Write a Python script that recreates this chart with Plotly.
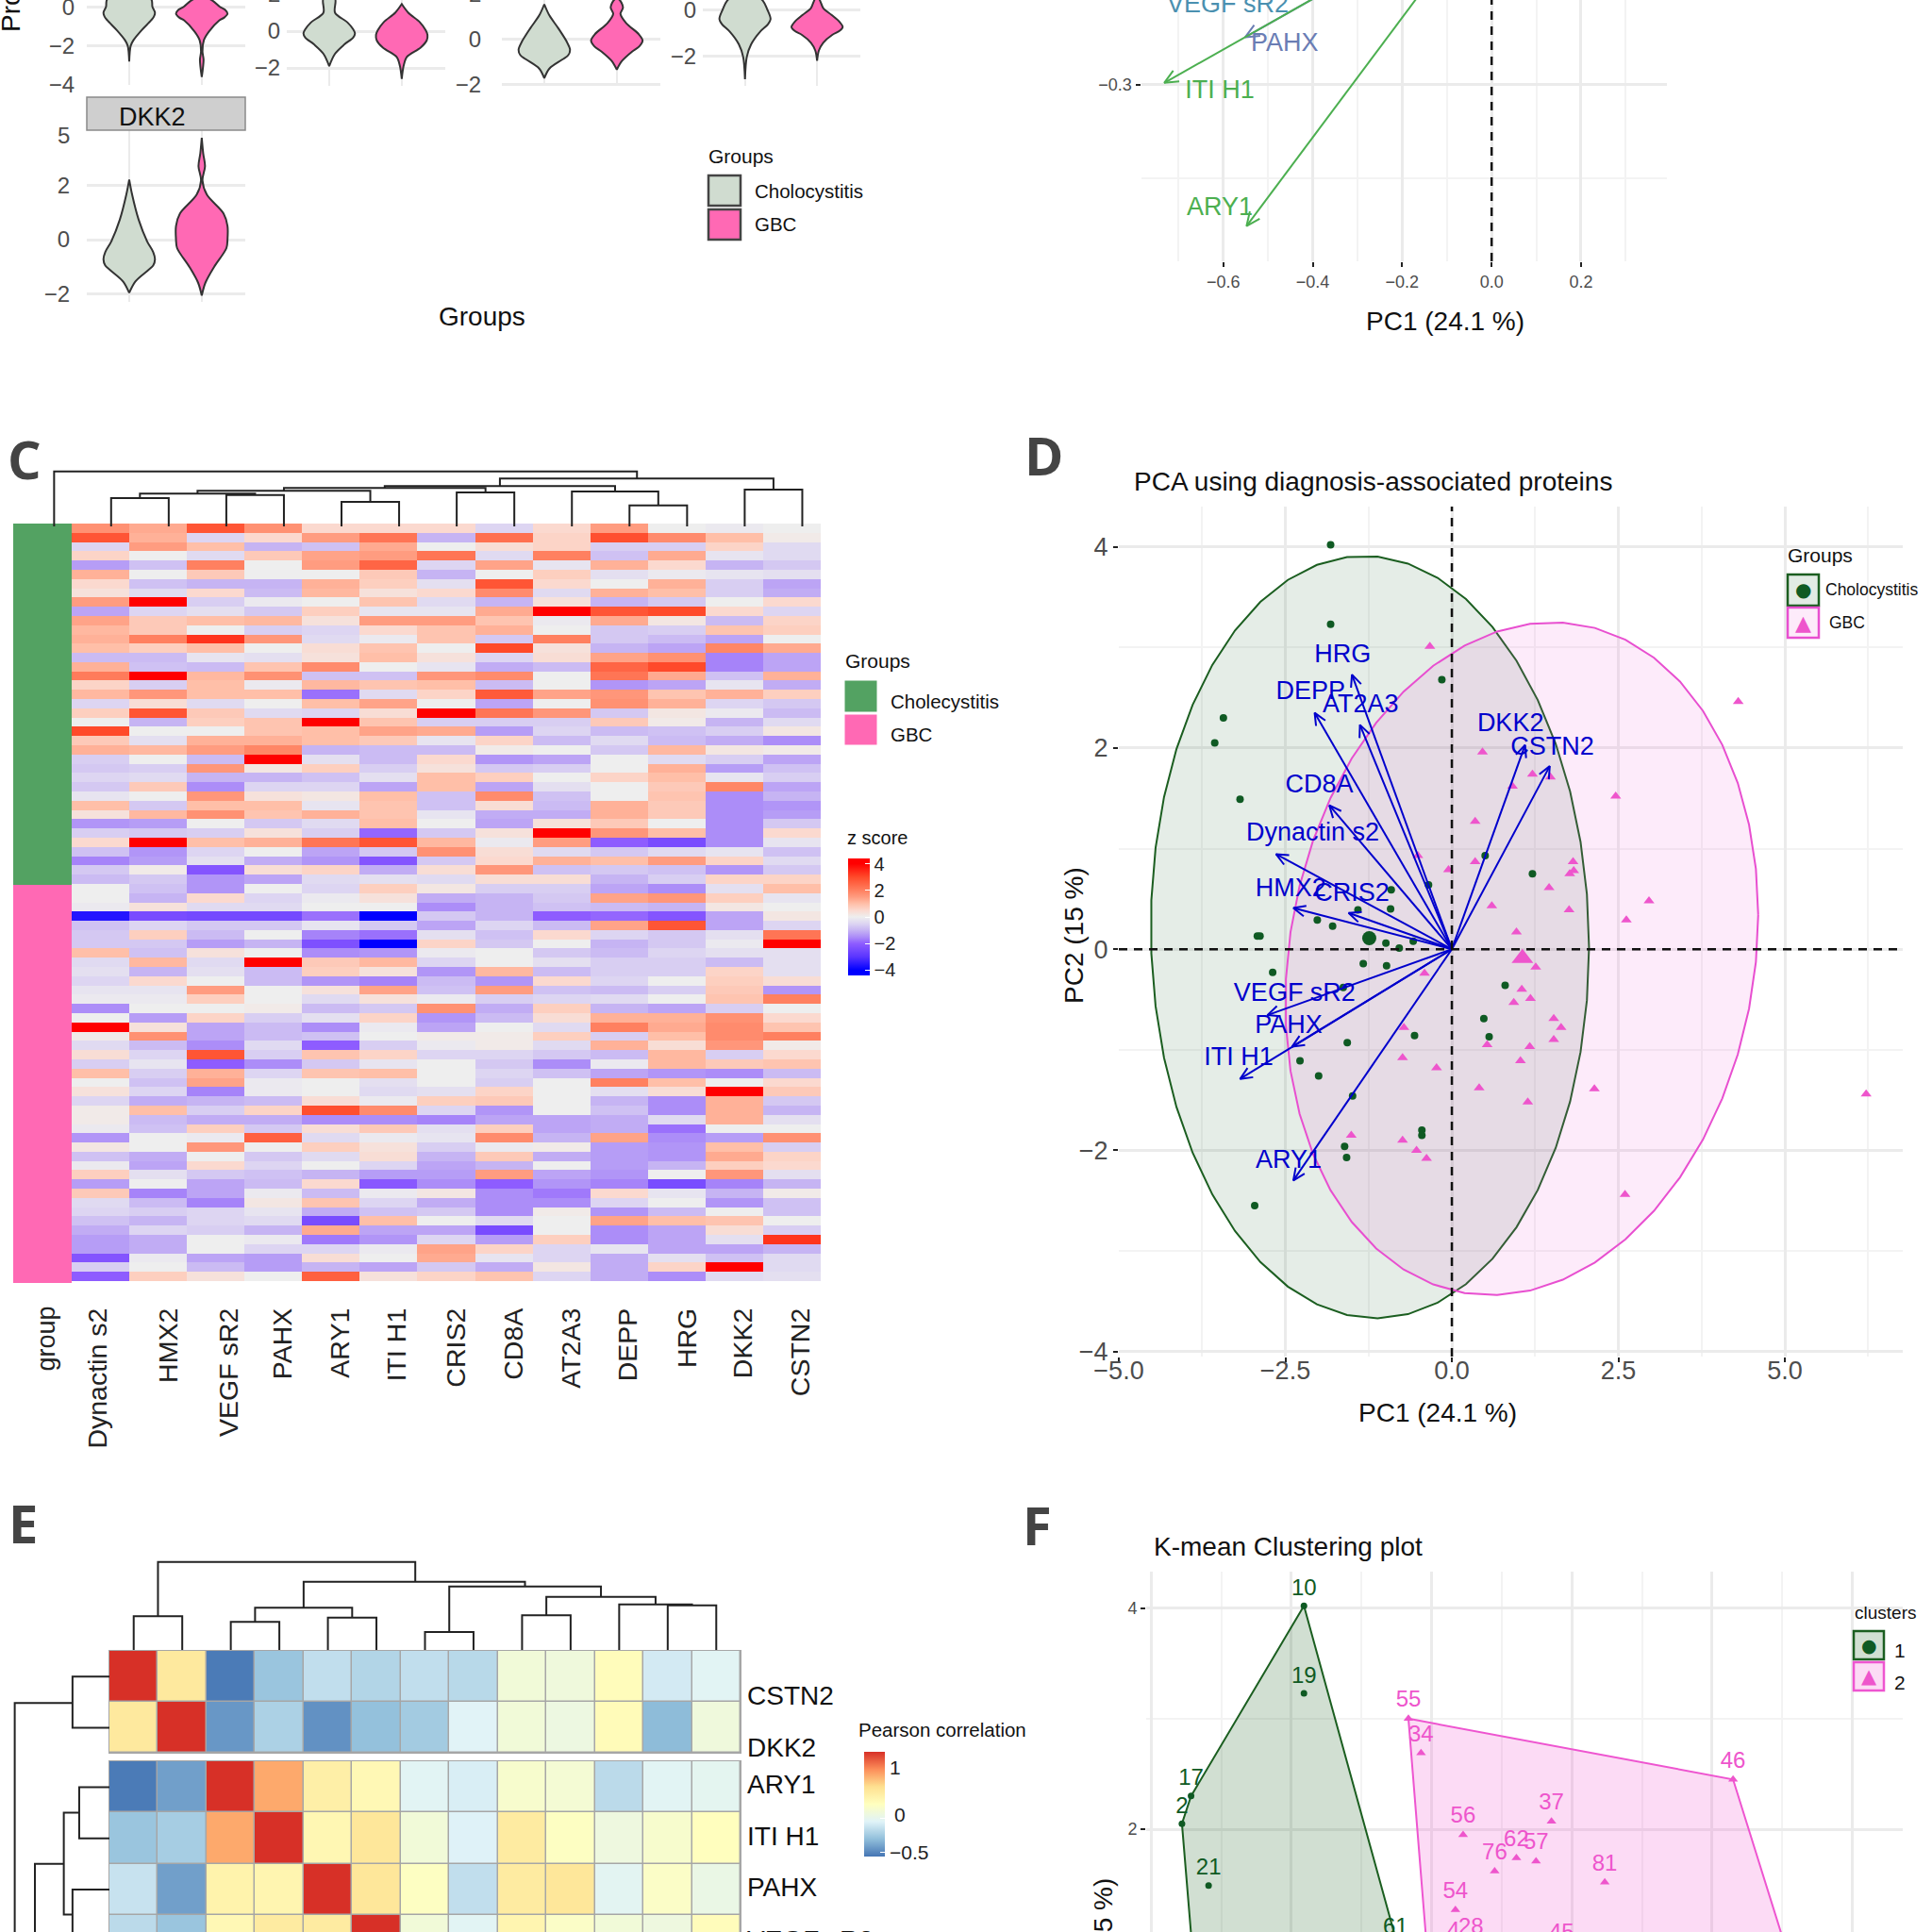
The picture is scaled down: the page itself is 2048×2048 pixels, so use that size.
import math
import plotly.graph_objects as go

FONT = "Liberation Sans"
PAGE = 2048
GRID = "#EBEBEB"
MINOR = "#F3F3F3"
TICKGREY = "#4D4D4D"
CHOLE_V = "#D0DCD0"
PINK_V = "#FF69B4"
GREEN = "#0F5A23"
MAGENTA = "#EE55CC"
BLUE = "#0000CC"

# ---- Panel A: violin outlines (value, half width) ----
a1_chole_y = [0.4, 0, -0.3, -0.5, -0.7, -1.2, -1.7, -2, -2.8]
a1_chole_w = [.30, .32, .355, .34, .30, .17, .06, .02, 0]
a1_gbc_y = [0.4, 0, -.15, -.35, -.55, -.7, -1.26, -1.7, -2.3, -2.7, -3.6]
a1_gbc_w = [.11, .25, .32, .355, .31, .24, .10, .03, .01, .025, 0]
a2_chole_y = [1.75, 1.0, .48, .1, -.12, -.35, -.72, -1.23, -1.9]
a2_chole_w = [.08, .08, .25, .33, .355, .33, .21, .08, 0]
a2_gbc_y = [1.47, 1.0, .48, .05, -.2, -.5, -.9, -1.4, -1.9, -2.6]
a2_gbc_w = [0, .09, .25, .33, .355, .345, .26, .07, .025, 0]
a3_chole_y = [1.58, 1.08, .52, -.1, -.46, -.7, -.89, -1.3, -1.73]
a3_chole_w = [0, .07, .19, .31, .355, .33, .25, .07, 0]
a3_gbc_y = [1.8, 1.44, 1.15, .73, .25, -.04, -.3, -.54, -.96, -1.34]
a3_gbc_w = [.03, .085, .05, .13, .30, .355, .31, .21, .07, 0]
a4_chole_y = [.5, .03, -.38, -.6, -.93, -1.48, -2.03, -3]
a4_chole_w = [.22, .31, .355, .32, .21, .085, .025, 0]
a4_gbc_y = [.5, .1, -.2, -.5, -.73, -.9, -1.07, -1.41, -1.75, -2.2]
a4_gbc_w = [.025, .085, .2, .31, .355, .31, .21, .085, .025, 0]
dkk_chole_y = [2.2, 1.65, .73, -.08, -.45, -.72, -.95, -1.12, -1.53, -1.95]
dkk_chole_w = [0, .04, .13, .25, .33, .355, .33, .26, .085, 0]
dkk_gbc_y = [3.73, 3.16, 2.69, 2.17, 1.65, .96, .5, 0, -.31, -1.0, -1.58, -2.05]
dkk_gbc_w = [0, .02, .045, .01, .07, .30, .355, .355, .34, .17, .05, 0]

# ---- Panel B: loading arrows ----
b_names = ["PAHX", "ITI H1", "ARY1"]
b_tip_x = [-.551, -.732, -.548]
b_tip_y = [-.2237, -.297, -.527]
b_colors = ["#6A7DB4", "#4CAF50", "#4CAF50"]
b_label_names = ["VEGF sR2", "PAHX", "ITI H1", "ARY1"]
b_label_x = [-.59, -.463, -.608, -.608]
b_label_y = [-.173, -.235, -.311, -.499]
b_label_colors = ["#4A90B0", "#6A7DB4", "#4CAF50", "#4CAF50"]

# ---- Panel C: heatmap ----
c_cols = ["Dynactin s2", "HMX2", "VEGF sR2", "PAHX", "ARY1", "ITI H1", "CRIS2",
          "CD8A", "AT2A3", "DEPP", "HRG", "DKK2", "CSTN2"]
c_col_label_pos = [-.04, 1.19, 2.23, 3.17, 4.17, 5.15, 6.17, 7.17, 8.17, 9.15, 10.18, 11.15, 12.15]
c_rows = [
 [1.7,1.3,2.8,1.7,.5,.5,.5,-.5,.5,1.5,0,-.1,0],
 [2.8,1.2,-.5,.5,1.5,2.2,-1,2.3,.6,2.9,1.8,1,.1],
 [-.5,1.5,1,-1,-.8,1.3,0,.4,.6,-.6,-.6,.6,-.4],
 [.6,0,-.4,.8,1.4,1.5,2.2,-.4,2,-.8,1.3,-.2,-.4],
 [-1.3,-.8,2,0,1.5,2.5,-.5,1.4,-.2,1.2,.5,-1,-.7],
 [1.2,0,.8,0,0,.8,-1,0,.7,-.3,-.1,-.2,-.3],
 [.5,-.8,-1,-1,1.2,.7,-.3,2.8,.5,0,1.2,-.6,-1.2],
 [.3,-.4,.5,-.9,1.1,.3,.5,1.8,-.4,1.2,1,-.6,-1.1],
 [1.5,4,-.6,-.1,0,.9,-.4,-1,.3,-1,-.7,0,.5],
 [-1.2,-.5,-.3,-.7,.7,-.2,-.2,1.3,4,2.8,3,.5,-.5],
 [1.4,.8,1,1.1,.3,1.5,1.5,.9,-.1,1.3,.2,-.9,.6],
 [1.1,.8,0,-.6,-.5,.5,.9,1.2,0,-.7,-.6,.9,.7],
 [1.2,2,3.3,1.6,-.4,-.1,.9,-.7,2,-.7,-.9,-1.2,0],
 [1,.7,1,0,.4,.9,0,3,.3,-1,-1.2,1.9,1.3],
 [-.9,-.9,-.2,-.3,.3,1,.3,-.5,.4,1.4,1.7,-1.6,-1.2],
 [1.2,-.8,-.9,.9,1.8,0,-.2,-1.1,-.9,2.5,3,-1.6,-1.2],
 [2.1,4,1.1,1.7,-.8,-.8,1.6,1.8,0,2.2,1.3,-.8,1.2],
 [.6,-.6,1,-.1,1.1,.9,1,-.9,0,-1.4,-1.2,-.2,-1.1],
 [1.1,1.6,1,1,-1.8,-.4,.6,2.7,1.4,1.6,.9,1.2,.7],
 [-.5,.4,-.4,0,1,1.4,0,-1.2,0,1.7,1.2,-.5,-.7],
 [.7,2.8,.8,-.4,-.5,.4,4,2.2,1.6,-.7,.2,-.1,-.9],
 [0,-1,.7,.9,4,.9,-.6,-.6,-.6,.8,.1,-1,-.4],
 [3,0,0,.9,1,1.4,1.3,-1.3,-.5,-.9,-.8,-.6,.2],
 [.8,-.3,1.2,1.2,1,.8,-.2,.6,-.9,-.4,-.9,-1.1,-1.5],
 [1.2,1.1,1.5,1.9,-1,-.9,-.9,.1,0,-.7,1.1,.2,.1],
 [-.6,0,-.9,4,-.3,-.9,.5,-1.4,-1.2,0,-.4,-.6,-1.2],
 [-.7,-.6,1.6,.2,.7,-.6,.3,-.7,-.6,0,1.2,-1.3,-.8],
 [-.5,-.4,-1,-1,-.8,-.3,1,.7,0,.6,1,-.2,-.6],
 [-.7,.8,-1.5,-.5,-.5,-1.2,1,-1.2,-.3,0,.8,1.9,-1.2],
 [-.2,0,1.6,.3,.2,1,-.8,1.8,-.8,0,.9,-1.5,-1],
 [1,-.7,1,1,-.2,.9,-.8,.4,-.9,1.2,.8,-1.5,-1.4],
 [.3,1.1,1.7,.9,1.2,.9,-.2,-1.1,-1.1,1.2,.8,-1.5,-1.3],
 [-1.4,-1.3,0,-.7,-.4,1,0,-1.2,.3,.8,0,-1.5,-.7],
 [-.6,-.7,-.6,.3,-.6,-1.9,-.7,.3,4,1.6,1,-1.5,.5],
 [.5,4,1,1.2,2.2,2.8,1.1,-.1,1.5,-2,-2.4,-1.5,-.2],
 [-.8,-1.4,-.5,0,-1.2,-.7,1.7,.4,-.4,-.7,-.4,-.2,-.8],
 [-1.6,-1.3,-.3,-1.1,-1.4,-2.2,-.7,.5,1.2,1,1.5,.6,-.4],
 [-.7,.1,-2.2,.4,.6,-1.1,.4,1.6,-.8,-.7,-.8,-1.4,-.7],
 [-.9,-.7,-1.4,-1.2,-.4,-.3,-.4,.4,.4,-1,-.6,.6,.6],
 [0,-.8,-1.4,0,-.5,.7,.2,-.6,-.6,-1.2,-1.5,-.3,1],
 [0,-1,.5,-.5,-.1,.3,-1.1,-1,-.7,1.4,1.6,.7,-.2],
 [-.1,.3,-.4,-.4,0,0,-1.5,-1,-.8,-.9,-1,.2,0],
 [-3.6,-2.4,-2.5,-2.5,-1.8,-4,-.7,-1,-2,-1.9,-2.2,-1.2,.2],
 [-.8,-.5,-.7,-.7,-.2,-.7,-1.2,-.5,-.9,1.4,2.8,-1.2,-.5],
 [-.7,.7,-.9,0,-1.6,-1.8,-.3,-.8,.5,-.5,-.7,-.3,2.2],
 [-.7,-.7,-1.3,-1,-2.3,-4,.6,-.7,0,-1,-.7,-.1,4],
 [1,-.8,.3,0,-1.5,-1.4,-.1,0,-.7,-.9,-.5,-.3,-.3],
 [-.4,1.1,-.4,4,.8,1.1,-.5,0,-.3,-.6,-.6,-.9,-.3],
 [-.3,-1,-.3,-.9,.7,.3,-1.4,1.1,-.9,-.6,-.6,.6,-.3],
 [-.5,.5,0,-.9,-1.4,-1.6,-.9,-1.4,.5,-.5,0,.7,.4],
 [-.2,-.2,1.5,0,.3,1.4,-.8,1.5,-.8,-.9,-.6,.8,-1.4],
 [-.1,-.1,.7,0,-.4,.3,-.1,-.6,-.5,-.4,0,.9,2],
 [-1.5,0,0,.1,-.9,-.7,1.7,-1.1,.7,-1,-1.2,-.6,0],
 [0,-1.3,.6,-.6,-.3,.6,-1.4,-.9,.4,1.2,1.2,1.7,.5],
 [4,.3,-1.2,-.9,-1.5,-.1,-1.2,0,-.4,2,1.3,1.8,.9],
 [.1,1.7,-1.2,-.9,-.8,0,.1,.1,.7,-.6,1,1.8,2],
 [-.4,-.9,-1.5,-.4,-2,-.6,-.1,.1,-.4,1.2,.4,1.6,.1],
 [.4,-.5,2.8,-.6,.9,.6,-.5,-.5,-.7,-.9,1.1,-.6,.5],
 [-.6,-.2,-2,-1.5,-.7,-.2,0,-.7,-1.5,-.1,1.1,.8,.9],
 [1,-.6,1.2,-.5,.9,1,0,-.5,-.8,-1.2,-1.4,-1.5,-.9],
 [0,-.8,1.4,-.1,0,-.3,0,-.6,0,2,1,0,.5],
 [.3,-.5,-1.6,-.1,0,-.4,-.3,.6,0,-.3,.4,4,.8],
 [-.5,-1.1,-1,-.9,.4,-.1,.7,.8,0,-1,-1.5,1.2,-.7],
 [.1,1,-.6,.6,2.9,1.8,-.5,-1.4,0,-.8,-1.5,1.2,-1],
 [.1,-.9,-1.1,-1.1,-1.5,-1.5,-1.6,-1.2,-1.2,-1.1,-.4,1.2,-.3],
 [-.1,-.8,.7,-.7,.4,.8,-.3,.7,-1.2,-1.1,-1.8,0,0],
 [-1.4,0,-.1,2.6,-.4,-.1,-.2,1.8,-1,1.4,-1.5,-1.3,1.7],
 [.2,0,1.6,0,.7,.3,-.6,-.1,.1,-1.3,-1.4,1,-.6],
 [-.8,-1.1,0,-.7,-.4,.4,-1,.8,-1.1,-1.3,-1.4,1.3,.6],
 [-.1,-1.2,.5,-.5,0,-.5,-1.2,-1,0,-1.3,-1,.7,.5],
 [.7,-.3,-.7,-.8,-1,-1.3,-1.3,1.5,-1.2,-1.4,0,1.6,-.3],
 [-1.3,0,-1.2,-.9,.5,-2.1,-1.5,-2,-1.4,-1.6,-2.4,-1.6,-1],
 [.8,-1.6,-1.2,-.1,-.9,-.1,.2,-1.5,-1.7,.5,-.2,-1,.1],
 [-.4,-.9,-1.6,.2,.9,-.5,-1.1,-1.5,-1.5,-.5,0,-1.4,-.8],
 [-.5,-.6,-.5,-.2,-1.1,-.8,-.7,-1.5,.1,-1.4,-.9,0,-.8],
 [-.8,-1,-.5,-.4,-2.4,1,0,-.4,0,1.4,1,.9,0],
 [-1.1,-.5,-.6,-1,1.3,-1.2,-1.2,-2.4,0,-1.5,-1.2,.4,-.6],
 [-1.3,-1.1,0,-.1,-1.7,-1.4,-.5,-1.3,.7,-1.5,-1.2,-.3,3.3],
 [-1.3,-1.1,0,-.5,-.5,-.1,1.4,.6,-.5,-.2,-1.2,-1.2,-1],
 [-2.2,-.1,-1.2,-1.3,.4,0,1.3,-.2,-.5,-1.1,-.3,-.8,-.4],
 [-.6,0,-.9,-1.3,-1,-1.2,-.7,-1.1,.2,-1.1,.6,4,-.4],
 [-2,.7,.3,0,2.6,.3,.6,.9,-.5,-1.1,-1.5,-.4,-.3],
]
n_chole = 39
hm_stops = [-4.4, -4, -3, -2, -1.5, -1, -.5, 0, .5, 1, 1.5, 2, 3, 4, 4.4]
hm_colors = ["#0000FF", "#0000FF", "#5A35FF", "#8E5CFF", "#AC8DF8", "#C6B4F3", "#DDD5F2", "#EEEEEE",
             "#FBD9CF", "#FFBFA8", "#FF9C80", "#FF8060", "#FF4A2A", "#FF0000", "#FF0000"]
# dendrogram merges: left leaf pos, right leaf pos, top, left child height, right child height
c_d_left = [0, 2, .5, 4, 1.5, 6, 3, 9, 8, 4.75, 11, 6.75, -.99]
c_d_right = [1, 3, 2.5, 5, 4.5, 7, 6.5, 10, 9.5, 8.75, 12, 11.5, 9.13]
c_d_top = [30, 33.3, 34.7, 26, 37.7, 36, 40.7, 22.3, 37, 42.7, 39, 50.7, 58.3]
c_d_lb = [0, 0, 30, 0, 34.7, 0, 37.7, 0, 0, 40.7, 0, 42.7, 0]
c_d_rb = [0, 0, 33.3, 0, 26, 0, 36, 0, 22.3, 37, 0, 39, 50.7]

# ---- Panel D: PCA ----
d_green_x = [-1.82,-1.82,-.15,-3.43,-3.56,-3.18,.50,1.21,-.35,-.91,-.92,-1.41,-2.02,-1.79,-2.92,-2.88,-.99,-.79,-.58,
             -1.33,-.98,-2.69,-1.63,.80,.48,-.56,.56,-1.57,-2.28,-2.0,-1.49,-.45,-.45,-1.61,-1.58,-2.96]
d_green_y = [4.02,3.23,2.68,2.30,2.05,1.49,.93,.75,.64,.59,.40,.39,.29,.23,.13,.13,.06,.01,.08,
             -.145,-.165,-.23,-.38,-.36,-.69,-.86,-.87,-.93,-1.11,-1.26,-1.46,-1.80,-1.85,-1.96,-2.07,-2.55]
d_pink_x = [-.33,4.30,.46,1.21,1.48,.91,2.46,.35,-.51,.35,-.05,1.82,1.83,1.77,1.46,2.96,.60,1.76,2.62,.97,
            1.26,-.41,1.05,1.18,.93,1.53,1.64,-.72,1.53,.53,1.17,-.74,1.03,-.23,.41,2.14,6.22,1.14,-1.51,-.74,-.53,-.38,2.60]
d_pink_y = [3.01,2.46,1.96,1.74,1.71,1.62,1.52,1.27,.93,.87,.79,.87,.78,.75,.61,.48,.43,.39,.29,.17,
            -.18,-.24,-.40,-.49,-.53,-.69,-.78,-.78,-.90,-.95,-.97,-1.08,-1.11,-1.18,-1.38,-1.39,-1.44,-1.52,-1.85,-1.90,-2.0,-2.08,-2.44]
d_means_x = [-1.24, 1.06]
d_means_y = [.11, -.09]
# confidence ellipses: centre x, half width, centre y, half height, tilt sine
d_ell_green = (-1.23, 3.29, .12, 3.79, -.027)
d_ell_pink = (1.05, 3.55, -.095, 3.345, .13)
d_arrow_tip_x = [-1.50,-2.06,-1.38,-1.84,-2.64,-2.38,-1.55,1.10,1.47,-2.77,-2.40,-3.18,-2.38]
d_arrow_tip_y = [2.73,2.35,2.23,1.43,.945,.41,.36,2.03,1.82,-.656,-.97,-1.29,-2.30]
d_label_names = ["HRG","DEPP","AT2A3","CD8A","Dynactin s2","HMX2","CRIS2","DKK2","CSTN2","VEGF sR2","PAHX","ITI H1","ARY1"]
d_label_x = [-1.64,-2.12,-1.37,-1.99,-2.09,-2.42,-1.50,.88,1.51,-2.36,-2.45,-3.2,-2.45]
d_label_y = [2.92,2.55,2.42,1.62,1.14,.59,.54,2.23,2.0,-.455,-.77,-1.09,-2.11]

# ---- Panel E: correlation ----
e_top_names = ["CSTN2", "DKK2"]
e_top_rows = [
 [1,.40,-.55,-.28,-.15,-.2,-.15,-.18,.1,.08,.24,-.09,-.03],
 [.40,1,-.45,-.22,-.47,-.3,-.25,-.04,.1,.06,.25,-.32,.08],
]
e_low_names = ["ARY1", "ITI H1", "PAHX", "VEGF sR2"]
e_low_rows = [
 [-.55,-.42,1,.65,.35,.27,-.03,-.07,.15,.12,-.17,-.03,-.01],
 [-.28,-.24,.65,1,.28,.42,.1,-.05,.38,.2,.07,.15,.22],
 [-.13,-.42,.32,.3,1,.42,.2,-.15,.38,.42,-.02,.18,.04],
 [-.17,-.28,.27,.38,.38,1,.1,-.03,.3,.18,.1,.07,.24],
]
e_scale_colors = ["#4575B4", "#91BFDB", "#E0F3F8", "#FFFFBF", "#FEE090", "#FC8D59", "#D73027"]
e_d_left = [0, 2, 4, 2.5, 6, 8, 11, 10, 8.5, 6.5, 3.5, .5]
e_d_right = [1, 3, 5, 4.5, 7, 9, 12, 11.5, 10.75, 9.625, 8.06, 5.8]
e_d_top = [35.7, 29.7, 34.3, 44.7, 19, 36.7, 47.3, 48.3, 56.3, 67.3, 72.3, 93.3]
e_d_lb = [0, 0, 0, 29.7, 0, 0, 0, 0, 36.7, 19, 44.7, 35.7]
e_d_rb = [0, 0, 0, 34.3, 0, 0, 0, 47.3, 48.3, 56.3, 67.3, 72.3]
e_s_y1 = [0, 2.16, 4.16, 2.66, 3.66, .52]
e_s_y2 = [1, 3.16, 5.16, 4.65, 7, 8]
e_s_h = [38.6, 31.6, 38.6, 47.7, 77.9, 99]
e_s_h1 = [0, 0, 0, 31.6, 47.7, 38.6]
e_s_h2 = [0, 0, 0, 38.6, 40, 77.9]

# ---- Panel F: k-means ----
f_green_x = [-1.82, -1.82, -3.43, -3.56, -3.18]
f_green_y = [4.02, 3.23, 2.30, 2.05, 1.49]
f_green_ids = ["10", "19", "17", "2", "21"]
f_pink_x = [-.33, -.15, 4.30, 1.71, .45, 1.21, 1.49, .90, 2.47, .34]
f_pink_y = [3.0, 2.69, 2.45, 2.07, 1.95, 1.74, 1.71, 1.62, 1.52, 1.27]
f_pink_ids = ["55", "34", "46", "37", "56", "62", "57", "76", "81", "54"]
f_hull_green_x = [-1.82, -.35, -.45, -2.96, -3.56, -3.43, -1.82]
f_hull_green_y = [4.02, .64, -1.85, -2.55, 2.05, 2.30, 4.02]
f_hull_pink_x = [-.33, 4.30, 6.22, 2.60, -1.51, -.05, -.33]
f_hull_pink_y = [3.0, 2.45, -1.44, -2.44, -1.85, .79, 3.0]

fig = go.Figure()
layout = {}
shapes = []
annots = []
ax_count = [0]


def new_axes(left, right, top, bottom, xr, yr, xopts=None, yopts=None):
    ax_count[0] += 1
    n = ax_count[0]
    sx = "" if n == 1 else str(n)
    base = dict(showgrid=False, zeroline=False, showline=False, ticks="", showticklabels=False,
                fixedrange=True, ticklabeloverflow="allow")
    xa = dict(base)
    ya = dict(base)
    xa.update(domain=[left / PAGE, right / PAGE], range=xr, anchor="y" + sx)
    ya.update(domain=[1 - bottom / PAGE, 1 - top / PAGE], range=yr, anchor="x" + sx)
    xa.update(xopts or {})
    ya.update(yopts or {})
    layout["xaxis" + sx] = xa
    layout["yaxis" + sx] = ya
    return "x" + sx, "y" + sx


def note(text, px, py, size, color="#111111", xa="center", ya="middle", angle=0, family=FONT, bold=False):
    t = f"<b>{text}</b>" if bold else text
    annots.append(dict(text=t, xref="paper", yref="paper", x=px / PAGE, y=1 - py / PAGE,
                       xanchor=xa, yanchor=ya, showarrow=False, textangle=angle,
                       font=dict(family=family, size=size, color=color), borderpad=0))


def rect(x0, x1, y0, y1, fill, line, width=2):
    shapes.append(dict(type="rect", xref="paper", yref="paper", x0=x0 / PAGE, x1=x1 / PAGE,
                       y0=1 - y1 / PAGE, y1=1 - y0 / PAGE, fillcolor=fill,
                       line=dict(color=line, width=width), layer="above"))


def ticks_grid(dtick, minor=None, tick0=0, labels=True, size=24, fmt=None, marks=False, mark_w=2, standoff=0):
    o = dict(showgrid=True, gridcolor=GRID, gridwidth=3, tickmode="linear", tick0=tick0, dtick=dtick,
             showticklabels=labels, tickfont=dict(family=FONT, size=size, color=TICKGREY),
             ticklabelstandoff=standoff)
    if fmt:
        o["tickformat"] = fmt
    if marks:
        o.update(ticks="outside", ticklen=5, tickwidth=mark_w, tickcolor="#222222")
    if minor:
        o["minor"] = dict(dtick=minor, tick0=tick0, showgrid=True, gridcolor=MINOR, gridwidth=2)
    return o


def violin(xa, ya, pos, vals, widths, fill):
    xs = [pos - w for w in widths] + [pos + w for w in reversed(widths)]
    ys = list(vals) + list(reversed(vals))
    xs.append(xs[0])
    ys.append(ys[0])
    fig.add_trace(go.Scatter(x=xs, y=ys, xaxis=xa, yaxis=ya, mode="lines", fill="toself", fillcolor=fill,
                             line=dict(color="#333333", width=2, shape="spline", smoothing=0.9), hoverinfo="skip"))


def violin_panel(left, right, top, bottom, yr, ytick_vals, chole, gbc, standoff):
    xa, ya = new_axes(left, right, top, bottom, [0.415, 2.6], yr,
                      dict(showgrid=True, gridcolor=GRID, gridwidth=2, tickmode="array", tickvals=[1, 2]),
                      dict(showgrid=True, gridcolor=GRID, gridwidth=3, tickmode="array", tickvals=ytick_vals,
                           showticklabels=True, ticklabelstandoff=standoff,
                           tickfont=dict(family=FONT, size=24, color=TICKGREY)))
    violin(xa, ya, 1, chole[0], chole[1], CHOLE_V)
    violin(xa, ya, 2, gbc[0], gbc[1], PINK_V)


def dendro_top(xa, ya, lefts, rights, tops, lbs, rbs, w=2):
    xs, ys = [], []
    for l, r, t, lb, rb in zip(lefts, rights, tops, lbs, rbs):
        xs += [l, l, r, r, None]
        ys += [lb, t, t, rb, None]
    fig.add_trace(go.Scatter(x=xs, y=ys, xaxis=xa, yaxis=ya, mode="lines",
                             line=dict(color="#222222", width=w), hoverinfo="skip"))


def arrows(xa, ya, tips_x, tips_y, colors, sx, sy, head=15, w=2):
    for tx, ty, c in zip(tips_x, tips_y, colors):
        px, py = tx * sx, ty * sy
        ang = math.atan2(py, px)
        xs, ys = [0, tx, None], [0, ty, None]
        for s in (-1, 1):
            a = ang + math.pi + s * math.radians(24)
            xs.append(tx + head * math.cos(a) / sx)
            ys.append(ty + head * math.sin(a) / sy)
            if s == -1:
                xs.append(tx)
                ys.append(ty)
        fig.add_trace(go.Scatter(x=xs, y=ys, xaxis=xa, yaxis=ya, mode="lines",
                                 line=dict(color=c, width=w), hoverinfo="skip"))


def ellipse(xa, ya, params, line, fill):
    cx, a, cy, b, s = params
    d = math.asin(s)
    ts = [math.radians(t) for t in range(0, 361, 8)]
    fig.add_trace(go.Scatter(x=[cx + a * math.cos(t) for t in ts], y=[cy + b * math.sin(t + d) for t in ts],
                             xaxis=xa, yaxis=ya, mode="lines", fill="toself", fillcolor=fill,
                             line=dict(color=line, width=2), hoverinfo="skip"))


# ---- A ----
violin_panel(92, 260, 0, 90, [-4, 0.35], [-4, -2, 0], (a1_chole_y, a1_chole_w), (a1_gbc_y, a1_gbc_w), 12)
violin_panel(304, 472, 0, 91, [-2.97, 1.69], [-2, 0], (a2_chole_y, a2_chole_w), (a2_gbc_y, a2_gbc_w), 6)
violin_panel(532, 700, 0, 91, [-2.07, 1.77], [-2, 0], (a3_chole_y, a3_chole_w), (a3_gbc_y, a3_gbc_w), 21)
violin_panel(745, 912, 0, 91, [-3.29, 0.45], [-2, 0], (a4_chole_y, a4_chole_w), (a4_gbc_y, a4_gbc_w), 6)
violin_panel(92, 260, 138, 320, [-2.28, 4.01], [-2, 0, 2], (dkk_chole_y, dkk_chole_w), (dkk_gbc_y, dkk_gbc_w), 17)
rect(92, 260, 103, 138, "#CFCFCF", "#8A8A8A", 1.5)
note("DKK2", 161, 124, 27)
note("5", 75, 143, 24, TICKGREY, xa="right")
note("2", 298, -7, 24, TICKGREY, xa="right")
note("2", 511, -7, 24, TICKGREY, xa="right")
note("Pro", 12, 35, 28, angle=-90, ya="bottom")
note("Groups", 511, 335, 28)
note("Groups", 750, 165, 21, xa="left")
rect(751, 785, 186, 218, CHOLE_V, "#444444", 2.5)
rect(751, 785, 222, 254, PINK_V, "#444444", 2.5)
note("Cholocystitis", 799, 202, 20.5, xa="left")
note("GBC", 799, 237, 20.5, xa="left")

# ---- B ----
bxa, bya = new_axes(1209.5, 1767, 0, 277, [-.784, .392], [-.5835, -.164],
                    ticks_grid(.2, .1, size=18, fmt=".1f", marks=True),
                    ticks_grid(.3, .15, size=18, fmt=".1f", marks=True))
arrows(bxa, bya, b_tip_x, b_tip_y, b_colors, 474, 660, head=16)
fig.add_trace(go.Scatter(x=b_label_x, y=b_label_y, xaxis=bxa, yaxis=bya, mode="text", text=b_label_names,
                         textposition="middle center", cliponaxis=False, hoverinfo="skip",
                         textfont=dict(family=FONT, size=27, color=b_label_colors)))
shapes.append(dict(type="line", xref=bxa, yref=bya + " domain", x0=0, x1=0, y0=0, y1=1,
                   line=dict(color="#111111", width=2.5, dash="9px,7px"), layer="above"))
note("PC1 (24.1 %)", 1532, 340, 28)

# ---- C ----
n_rows = len(c_rows)
cs = [[(v + 4.4) / 8.8, c] for v, c in zip(hm_stops, hm_colors)]
cxa, cya = new_axes(76, 870, 555, 1358, [-.5, 12.5], [n_rows - .5, -.5],
                    dict(showticklabels=True, tickmode="array", tickvals=c_col_label_pos, ticktext=c_cols,
                         tickangle=-90, ticklabelstandoff=22,
                         tickfont=dict(family=FONT, size=28.5, color="#222222")))
fig.add_trace(go.Heatmap(z=c_rows, xaxis=cxa, yaxis=cya, colorscale=cs, zmin=-4.4, zmax=4.4, hoverinfo="skip",
                         colorbar=dict(x=899 / PAGE, xanchor="left", y=1 - 972 / PAGE, yanchor="middle",
                                       lenmode="pixels", len=124, thicknessmode="pixels", thickness=23,
                                       xpad=0, ypad=0, outlinewidth=0, tickmode="array",
                                       tickvals=[-4, -2, 0, 2, 4], ticks="inside", ticklen=5, tickcolor="#FFFFFF",
                                       tickfont=dict(family=FONT, size=20, color="#222222"))))
gxa, gya = new_axes(14, 76, 555, 1360, [-.5, .5], [n_rows - .5, -.5])
group_col = [[0]] * n_chole + [[1]] * (n_rows - n_chole)
fig.add_trace(go.Heatmap(z=group_col, xaxis=gxa, yaxis=gya, showscale=False, zmin=0, zmax=1, hoverinfo="skip",
                         colorscale=[[0, "#53A262"], [.5, "#53A262"], [.5, "#FF69B4"], [1, "#FF69B4"]]))
dxa, dya = new_axes(14, 870, 495, 558, [-1.70, 12.32], [0, 63])
dendro_top(dxa, dya, c_d_left, c_d_right, c_d_top, c_d_lb, c_d_rb)
note("group", 48, 1384, 27, "#222222", ya="top", angle=-90)
note("Groups", 895, 700, 21, xa="left")
rect(895, 930, 721, 755, "#53A262", "#FFFFFF", 1)
rect(895, 930, 757, 790, "#FF69B4", "#FFFFFF", 1)
note("Cholecystitis", 943, 743, 20.5, xa="left")
note("GBC", 943, 778, 20.5, xa="left")
note("z score", 930, 888, 20)

# ---- D ----
ph_x, ph_y = 70.6, 106.6
dpxa, dpya = new_axes(1186, 2017, 537, 1438, [-5, 6.77], [-4.05, 4.40],
                      ticks_grid(2.5, 1.25, size=27, fmt=".1f", marks=True, standoff=-14),
                      ticks_grid(2, 1, size=27, marks=True))
ellipse(dpxa, dpya, d_ell_green, "#1B5E20", "rgba(15,90,35,0.11)")
ellipse(dpxa, dpya, d_ell_pink, "#E84FD0", "rgba(240,90,210,0.12)")
fig.add_trace(go.Scatter(x=d_green_x, y=d_green_y, xaxis=dpxa, yaxis=dpya, mode="markers", hoverinfo="skip",
                         marker=dict(color=GREEN, size=8, symbol="circle")))
fig.add_trace(go.Scatter(x=d_pink_x, y=d_pink_y, xaxis=dpxa, yaxis=dpya, mode="markers", hoverinfo="skip",
                         marker=dict(color=MAGENTA, size=10, symbol="triangle-up")))
fig.add_trace(go.Scatter(x=d_means_x[:1], y=d_means_y[:1], xaxis=dpxa, yaxis=dpya, mode="markers", hoverinfo="skip",
                         marker=dict(color=GREEN, size=15, symbol="circle")))
fig.add_trace(go.Scatter(x=d_means_x[1:], y=d_means_y[1:], xaxis=dpxa, yaxis=dpya, mode="markers", hoverinfo="skip",
                         marker=dict(color=MAGENTA, size=20, symbol="triangle-up")))
arrows(dpxa, dpya, d_arrow_tip_x, d_arrow_tip_y, [BLUE] * len(d_arrow_tip_x), ph_x, ph_y, head=14)
fig.add_trace(go.Scatter(x=d_label_x, y=d_label_y, xaxis=dpxa, yaxis=dpya, mode="text", text=d_label_names,
                         textposition="middle center", hoverinfo="skip", cliponaxis=False,
                         textfont=dict(family=FONT, size=27, color=BLUE)))
shapes.append(dict(type="line", xref=dpxa, yref=dpya + " domain", x0=0, x1=0, y0=0, y1=1,
                   line=dict(color="#111111", width=2.5, dash="9px,7px"), layer="above"))
shapes.append(dict(type="line", xref=dpxa + " domain", yref=dpya, x0=0, x1=1, y0=0, y1=0,
                   line=dict(color="#111111", width=2.5, dash="9px,7px"), layer="above"))
note("PCA using diagnosis-associated proteins", 1201, 510, 28, xa="left")
note("PC1 (24.1 %)", 1524, 1497, 28)
note("PC2 (15 %)", 1138, 992, 28, angle=-90)
note("Groups", 1894, 588, 21, xa="left")
rect(1895, 1928, 609, 642, "rgba(15,90,35,0.12)", "#1B5E20", 2.5)
rect(1895, 1928, 644, 676, "rgba(240,90,210,0.12)", "#E84FD0", 2.5)
note("●", 1911, 625, 20, GREEN, family="DejaVu Sans")
note("▲", 1911, 660, 22, MAGENTA, family="DejaVu Sans")
note("Cholocystitis", 1934, 625, 17.5, xa="left")
note("GBC", 1938, 660, 17.5, xa="left")

# ---- E ----
e_cs = [[i / 6, c] for i, c in enumerate(e_scale_colors)]
for l, r, t, b in [(116, 785, 1750, 1858), (116, 785, 1867, 2048)]:
    rect(l - 1, r + 1, t - 1, min(b + 1, 2050), "#A6A6A6", "#A6A6A6", 0)
    shapes[-1]["layer"] = "below"
e_tick = dict(family=FONT, size=28, color="#111111")
e1x, e1y = new_axes(116, 785, 1750, 1858, [-.5, 12.5], [1.5, -.5], None,
                    dict(side="right", showticklabels=True, tickmode="array", tickvals=[.37, 1.39],
                         ticktext=e_top_names, tickfont=e_tick, ticklabelstandoff=6))
fig.add_trace(go.Heatmap(z=e_top_rows, xaxis=e1x, yaxis=e1y, colorscale=e_cs, zmin=-.57, zmax=1, xgap=1.5, ygap=1.5,
                         hoverinfo="skip", colorbar=dict(x=916 / PAGE, xanchor="left", y=1 - 1912.5 / PAGE,
                                                         yanchor="middle", lenmode="pixels", len=111,
                                                         thicknessmode="pixels", thickness=22, xpad=0, ypad=0,
                                                         outlinewidth=0, tickmode="array", tickvals=[-.5, 0, 1],
                                                         ticks="inside", ticklen=5, tickcolor="#FFFFFF",
                                                         showticklabels=False)))
e2x, e2y = new_axes(116, 785, 1867, 2048, [-.5, 12.5], [2.83, -.5], None,
                    dict(side="right", showticklabels=True, tickmode="array", tickvals=[-.06, .95, 1.95],
                         ticktext=e_low_names[:3], tickfont=e_tick, ticklabelstandoff=6))
fig.add_trace(go.Heatmap(z=e_low_rows, xaxis=e2x, yaxis=e2y, colorscale=e_cs, zmin=-.57, zmax=1, xgap=1.5, ygap=1.5,
                         showscale=False, hoverinfo="skip"))
note(e_low_names[3], 791, 2056, 28, xa="left")
etx, ety = new_axes(116, 785, 1650, 1749, [-.5, 12.5], [0, 99])
dendro_top(etx, ety, e_d_left, e_d_right, e_d_top, e_d_lb, e_d_rb)
esx, esy = new_axes(0, 116, 1750, 2048, [114.4, 0], [4.99, -.5])
sx_, sy_ = [], []
for y1, y2, h, h1, h2 in zip(e_s_y1, e_s_y2, e_s_h, e_s_h1, e_s_h2):
    sx_ += [h1, h, h, h2, None]
    sy_ += [y1, y1, y2, y2, None]
fig.add_trace(go.Scatter(x=sx_, y=sy_, xaxis=esx, yaxis=esy, mode="lines", line=dict(color="#222222", width=2),
                         hoverinfo="skip"))
note("Pearson correlation", 999, 1833, 20.5)
note("1", 949, 1873, 21, "#222222")
note("0", 954, 1923, 21, "#222222")
note("\u22120.5", 963, 1963, 21, "#222222")

# ---- F ----
fxa, fya = new_axes(1215, 2017, 1666, 2048, [-4.07, 6.72], [1.07, 4.33],
                    ticks_grid(2, 1, labels=False),
                    ticks_grid(2, 1, size=18, marks=True))
fig.add_trace(go.Scatter(x=f_hull_green_x, y=f_hull_green_y, xaxis=fxa, yaxis=fya, mode="lines", fill="toself",
                         fillcolor="rgba(27,94,32,0.2)", line=dict(color="#1B5E20", width=2), hoverinfo="skip"))
fig.add_trace(go.Scatter(x=f_hull_pink_x, y=f_hull_pink_y, xaxis=fxa, yaxis=fya, mode="lines", fill="toself",
                         fillcolor="rgba(240,90,210,0.22)", line=dict(color="#EE55D0", width=2), hoverinfo="skip"))
fig.add_trace(go.Scatter(x=f_green_x, y=f_green_y, xaxis=fxa, yaxis=fya, mode="markers+text", text=f_green_ids,
                         textposition="top center", hoverinfo="skip", marker=dict(color=GREEN, size=7),
                         textfont=dict(family=FONT, size=24, color=GREEN)))
fig.add_trace(go.Scatter(x=f_pink_x, y=f_pink_y, xaxis=fxa, yaxis=fya, mode="markers+text", text=f_pink_ids,
                         textposition="top center", hoverinfo="skip",
                         marker=dict(color=MAGENTA, size=9, symbol="triangle-up"),
                         textfont=dict(family=FONT, size=24, color=MAGENTA)))
note("61", 1479, 2041, 24, GREEN)
note("28", 1559, 2041, 24, MAGENTA)
note("4", 1540, 2045, 24, MAGENTA)
note("45", 1655, 2047, 24, MAGENTA)
note("K-mean Clustering plot", 1222, 1639, 28, xa="left")
note("PC2 (15 %)", 1169, 1990, 28, angle=-90, ya="top")
note("clusters", 1965, 1709, 19, xa="left")
rect(1965, 1997, 1729, 1759, "rgba(27,94,32,0.2)", "#1B5E20", 2.5)
rect(1965, 1997, 1762, 1792, "rgba(240,90,210,0.22)", "#EE55D0", 2.5)
note("●", 1981, 1744, 19, GREEN, family="DejaVu Sans")
note("▲", 1981, 1777, 21, MAGENTA, family="DejaVu Sans")
note("1", 2014, 1749, 21)
note("2", 2014, 1783, 21)

# ---- panel letters ----
for letter, px, py in [("C", 26, 486), ("D", 1106, 482), ("E", 24, 1614), ("F", 1099, 1616)]:
    note(letter, px, py, 56, "#444444", family="Open Sans", bold=True)

fig.update_layout(width=PAGE, height=PAGE, margin=dict(l=0, r=0, t=0, b=0, pad=0, autoexpand=False), autosize=False,
                  showlegend=False, paper_bgcolor="white", plot_bgcolor="rgba(0,0,0,0)",
                  font=dict(family=FONT), shapes=shapes, annotations=annots, **layout)
fig.write_html("out.html", config={"displayModeBar": False},
               post_script="document.body.style.margin='0';document.body.style.overflow='hidden';")
